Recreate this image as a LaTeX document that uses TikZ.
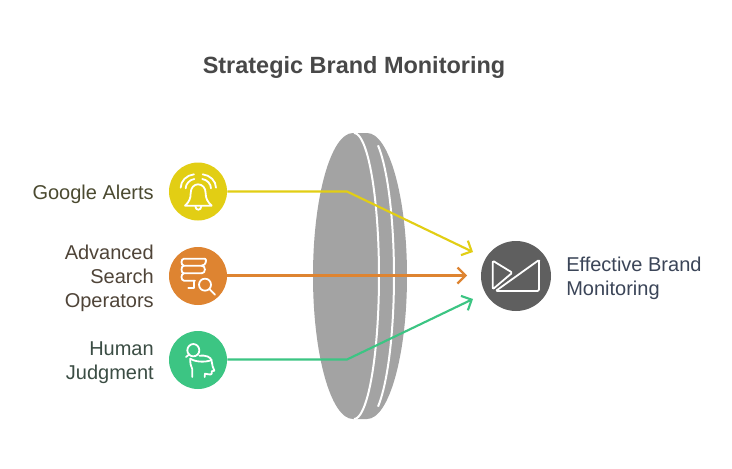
\documentclass[tikz,border=0pt]{standalone}
\usepackage{fontspec}
\setmainfont{Liberation Sans}
\usetikzlibrary{arrows.meta}
\definecolor{cyel}{HTML}{E2CE14}
\definecolor{cora}{HTML}{DE8431}
\definecolor{cgre}{HTML}{3CC583}
\definecolor{cdark}{HTML}{5F5F5F}
\definecolor{clens}{HTML}{A3A3A3}
\definecolor{tyel}{HTML}{4B4A30}
\definecolor{tora}{HTML}{4F4438}
\definecolor{tgre}{HTML}{3B4D44}
\definecolor{tblu}{HTML}{3B4558}
\definecolor{ttitle}{HTML}{484848}
\tikzset{
  x=0.75pt,y=-0.75pt,
  disc/.style={circle,inner sep=0pt,minimum size=43.5pt},
  bigdisc/.style={circle,inner sep=0pt,minimum size=52.5pt,fill=cdark},
  conn/.style={line width=1.6pt,-{Straight Barb[length=6pt,width=12pt,line width=1.6pt]}},
  lensline/.style={white,line width=1.5pt},
  icon/.style={white,line width=1.35pt,line cap=round,line join=round,x=0.25pt,y=-0.25pt},
  lab/.style={font=\fontsize{15}{18}\selectfont,inner sep=0pt,align=right,anchor=east},
  labr/.style={font=\fontsize{15}{18}\selectfont,inner sep=0pt,align=left,anchor=west},
}
\begin{document}
\begin{tikzpicture}
\useasboundingbox (0,0) rectangle (732,468);
\fill[white] (0,0) rectangle (732,468);
\node[font=\bfseries\fontsize{17.6}{22}\selectfont,text=ttitle] (title) at (354,67) {Strategic Brand Monitoring};
% lens
\fill[clens] (353,133) .. controls (331,133) and (313,197) .. (313,276)
  .. controls (313,355) and (331,419) .. (353,419) -- (367,419)
  .. controls (389,419) and (407,355) .. (407,276)
  .. controls (407,197) and (389,133) .. (367,133) -- cycle;
\draw[lensline] plot[domain=-90:90,samples=50] ({354+25*cos(\x)},{276+143*sin(\x)});
\draw[lensline] plot[domain=-66:66,samples=40] ({367+27*cos(\x)},{276+143*sin(\x)});
% nodes
\node[disc,fill=cyel] (a) at (198,191.5) {};
\node[disc,fill=cora] (b) at (198,276) {};
\node[disc,fill=cgre] (c) at (198,360) {};
\node[bigdisc] (d) at (516,276) {};
\coordinate (ea) at (473,252);
\coordinate (eb) at (467,275.5);
\coordinate (ec) at (473,299);
\coordinate (ba) at (347,191.5);
\coordinate (bc) at (347,359.5);
\draw[conn,cyel] (a.east |- ba) -- (ba) -- (ea);
\draw[conn,cora] (b.east |- eb) -- (eb);
\draw[conn,cgre] (c.east |- bc) -- (bc) -- (ec);
% labels
\node[lab,text=tyel] (la) at (154,194) {Google Alerts};
\node[lab,text=tora] (lb) at (154,278) {Advanced\\Search\\Operators};
\node[lab,text=tgre] (lc) at (154,362.5) {Human\\Judgment};
\node[labr,text=tblu] (ld) at (566,278) {Effective Brand\\Monitoring};
% bell icon
\begin{scope}[shift={(160,155)}]
\draw[icon] (75,152) .. controls (88,140) and (92,130) .. (92,115) .. controls (92,98) and (102,88) .. (114,88)
  .. controls (127,88) and (137,98) .. (137,115) .. controls (137,130) and (142,140) .. (155,152) -- cycle;
\draw[icon] (106,153) .. controls (106,168) and (124,168) .. (124,153);
\draw[icon] (62,98) .. controls (62,78) and (80,60) .. (102,58);
\draw[icon] (77,100) .. controls (77,88) and (88,74) .. (103,72);
\draw[icon] (168,98) .. controls (168,78) and (150,60) .. (128,58);
\draw[icon] (153,100) .. controls (153,88) and (142,74) .. (127,72);
\end{scope}
% server icon
\begin{scope}[shift={(160,238)}]
\draw[icon] (135,62) -- (72,62) .. controls (62,62) and (62,83) .. (72,83) -- (125,83);
\draw[icon] (72,83) .. controls (62,83) and (62,106) .. (72,106) -- (125,106);
\draw[icon] (72,106) .. controls (62,106) and (62,128) .. (72,128) -- (105,128);
\draw[icon] (135,62) .. controls (140,62) and (140,83) .. (125,83);
\draw[icon] (125,83) .. controls (138,83) and (138,106) .. (125,106);
\draw[icon] (103,128) -- (103,150) -- (85,150);
\foreach \yy in {72,95,117} {\fill[white] (80,\yy) circle[radius=1.1pt]; \fill[white] (90,\yy) circle[radius=1.1pt];}
\fill[white] (65,150) circle[radius=1pt]; \fill[white] (75,150) circle[radius=1pt];
\draw[icon] (135,122) .. controls (145,122) and (153,130) .. (153,140) .. controls (153,150) and (145,158) .. (135,158)
  .. controls (125,158) and (117,150) .. (117,140) .. controls (117,130) and (125,122) .. (135,122) -- cycle;
\draw[icon] (148,153) -- (165,170);
\end{scope}
% head icon
\begin{scope}[shift={(160,322)}]
\draw[icon] (100,66) .. controls (110,66) and (118,75) .. (118,85) .. controls (118,95) and (110,103) .. (100,103)
  .. controls (90,103) and (82,95) .. (82,85) .. controls (82,75) and (90,66) .. (100,66) -- cycle;
\draw[icon] (88,97) -- (78,105);
\draw[icon] (118,101) .. controls (135,99) and (155,104) .. (155,118) .. controls (155,128) and (160,138) .. (163,146)
  -- (155,148) -- (155,155) .. controls (155,159) and (145,157) .. (135,155) -- (134,165);
\draw[icon] (91,110) .. controls (90,122) and (92,132) .. (97,142) -- (97,165);
\draw[icon] (91,110) .. controls (105,120) and (135,122) .. (155,114);
\end{scope}
% envelope icon
\begin{scope}[shift={(450,230)}]
\draw[icon,rounded corners=1pt] (128,92) -- (187,128) -- (128,178) -- cycle;
\draw[icon,rounded corners=1pt] (264,92) -- (137,183) -- (267,183) -- (267,92) -- cycle;
\end{scope}
\end{tikzpicture}
\end{document}
